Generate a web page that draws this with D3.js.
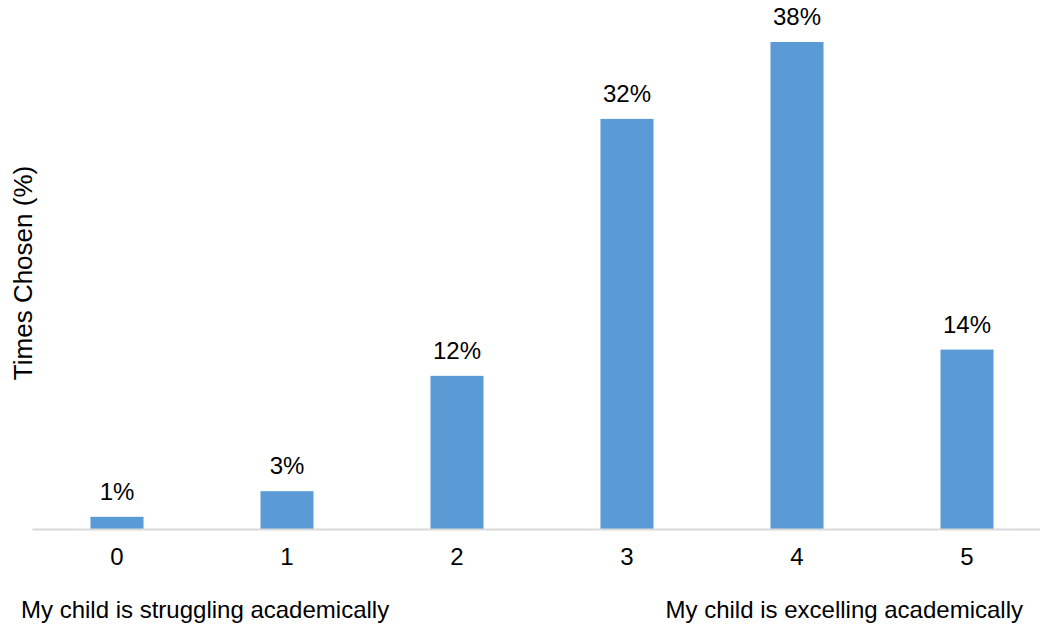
<!DOCTYPE html>
<html>
<head>
<meta charset="utf-8">
<script src="https://cdn.jsdelivr.net/npm/d3@7"></script>
<style>
  html, body { margin: 0; padding: 0; background: #fff; }
  svg { display: block; font-family: "Liberation Sans", Arial, sans-serif; }
</style>
</head>
<body>
<svg id="chart" width="1040" height="628"></svg>
<script>
const categories = ["0", "1", "2", "3", "4", "5"];
const values = [0.95, 2.95, 11.95, 32.0, 38.0, 14.0];
const valueLabels = ["1%", "3%", "12%", "32%", "38%", "14%"];
const yAxisTitle = "Times Chosen (%)";
const leftNote = "My child is struggling academically";
const rightNote = "My child is excelling academically";

const svg = d3.select("#chart");
const baseY = 529;
const FONT = "Liberation Sans, Arial, sans-serif";

const x = d3.scaleBand()
  .domain(categories)
  .range([32, 1052])
  .paddingInner(0.688)
  .paddingOuter(0.344);

const y = d3.scaleLinear()
  .domain([0, 40])
  .range([baseY, baseY - 40 * (487 / 38)]);

// bars
svg.append("g")
  .selectAll("rect")
  .data(values)
  .join("rect")
  .attr("x", (d, i) => x(categories[i]))
  .attr("y", d => y(d))
  .attr("width", x.bandwidth())
  .attr("height", d => y(0) - y(d))
  .attr("fill", "#5B9BD5");

// axis
const xAxis = d3.axisBottom(x).tickSize(0).tickPadding(0);
const gx = svg.append("g")
  .attr("transform", `translate(0,${baseY})`)
  .call(xAxis)
  .attr("font-size", null)
  .attr("font-family", null);
gx.select(".domain").attr("stroke", "#D9D9D9").attr("stroke-width", 2);
gx.selectAll(".tick text")
  .style("font-size", "24px")
  .style("font-family", FONT)
  .attr("fill", "#000")
  .attr("y", 36)
  .attr("dy", null);

// value labels
svg.append("g")
  .selectAll("text")
  .data(values)
  .join("text")
  .attr("x", (d, i) => x(categories[i]) + x.bandwidth() / 2)
  .attr("y", d => y(d) - 17)
  .attr("text-anchor", "middle")
  .style("font-size", "24px")
  .attr("fill", "#000")
  .text((d, i) => valueLabels[i]);

// y axis title
svg.append("text")
  .attr("transform", "translate(32,273) rotate(-90)")
  .attr("text-anchor", "middle")
  .style("font-size", "26px")
  .attr("fill", "#000")
  .text(yAxisTitle);

// notes
svg.append("text")
  .attr("x", 21)
  .attr("y", 618)
  .style("font-size", "24px")
  .attr("fill", "#000")
  .text(leftNote);

svg.append("text")
  .attr("x", 1023)
  .attr("y", 618)
  .attr("text-anchor", "end")
  .style("font-size", "24px")
  .attr("fill", "#000")
  .text(rightNote);
</script>
</body>
</html>
